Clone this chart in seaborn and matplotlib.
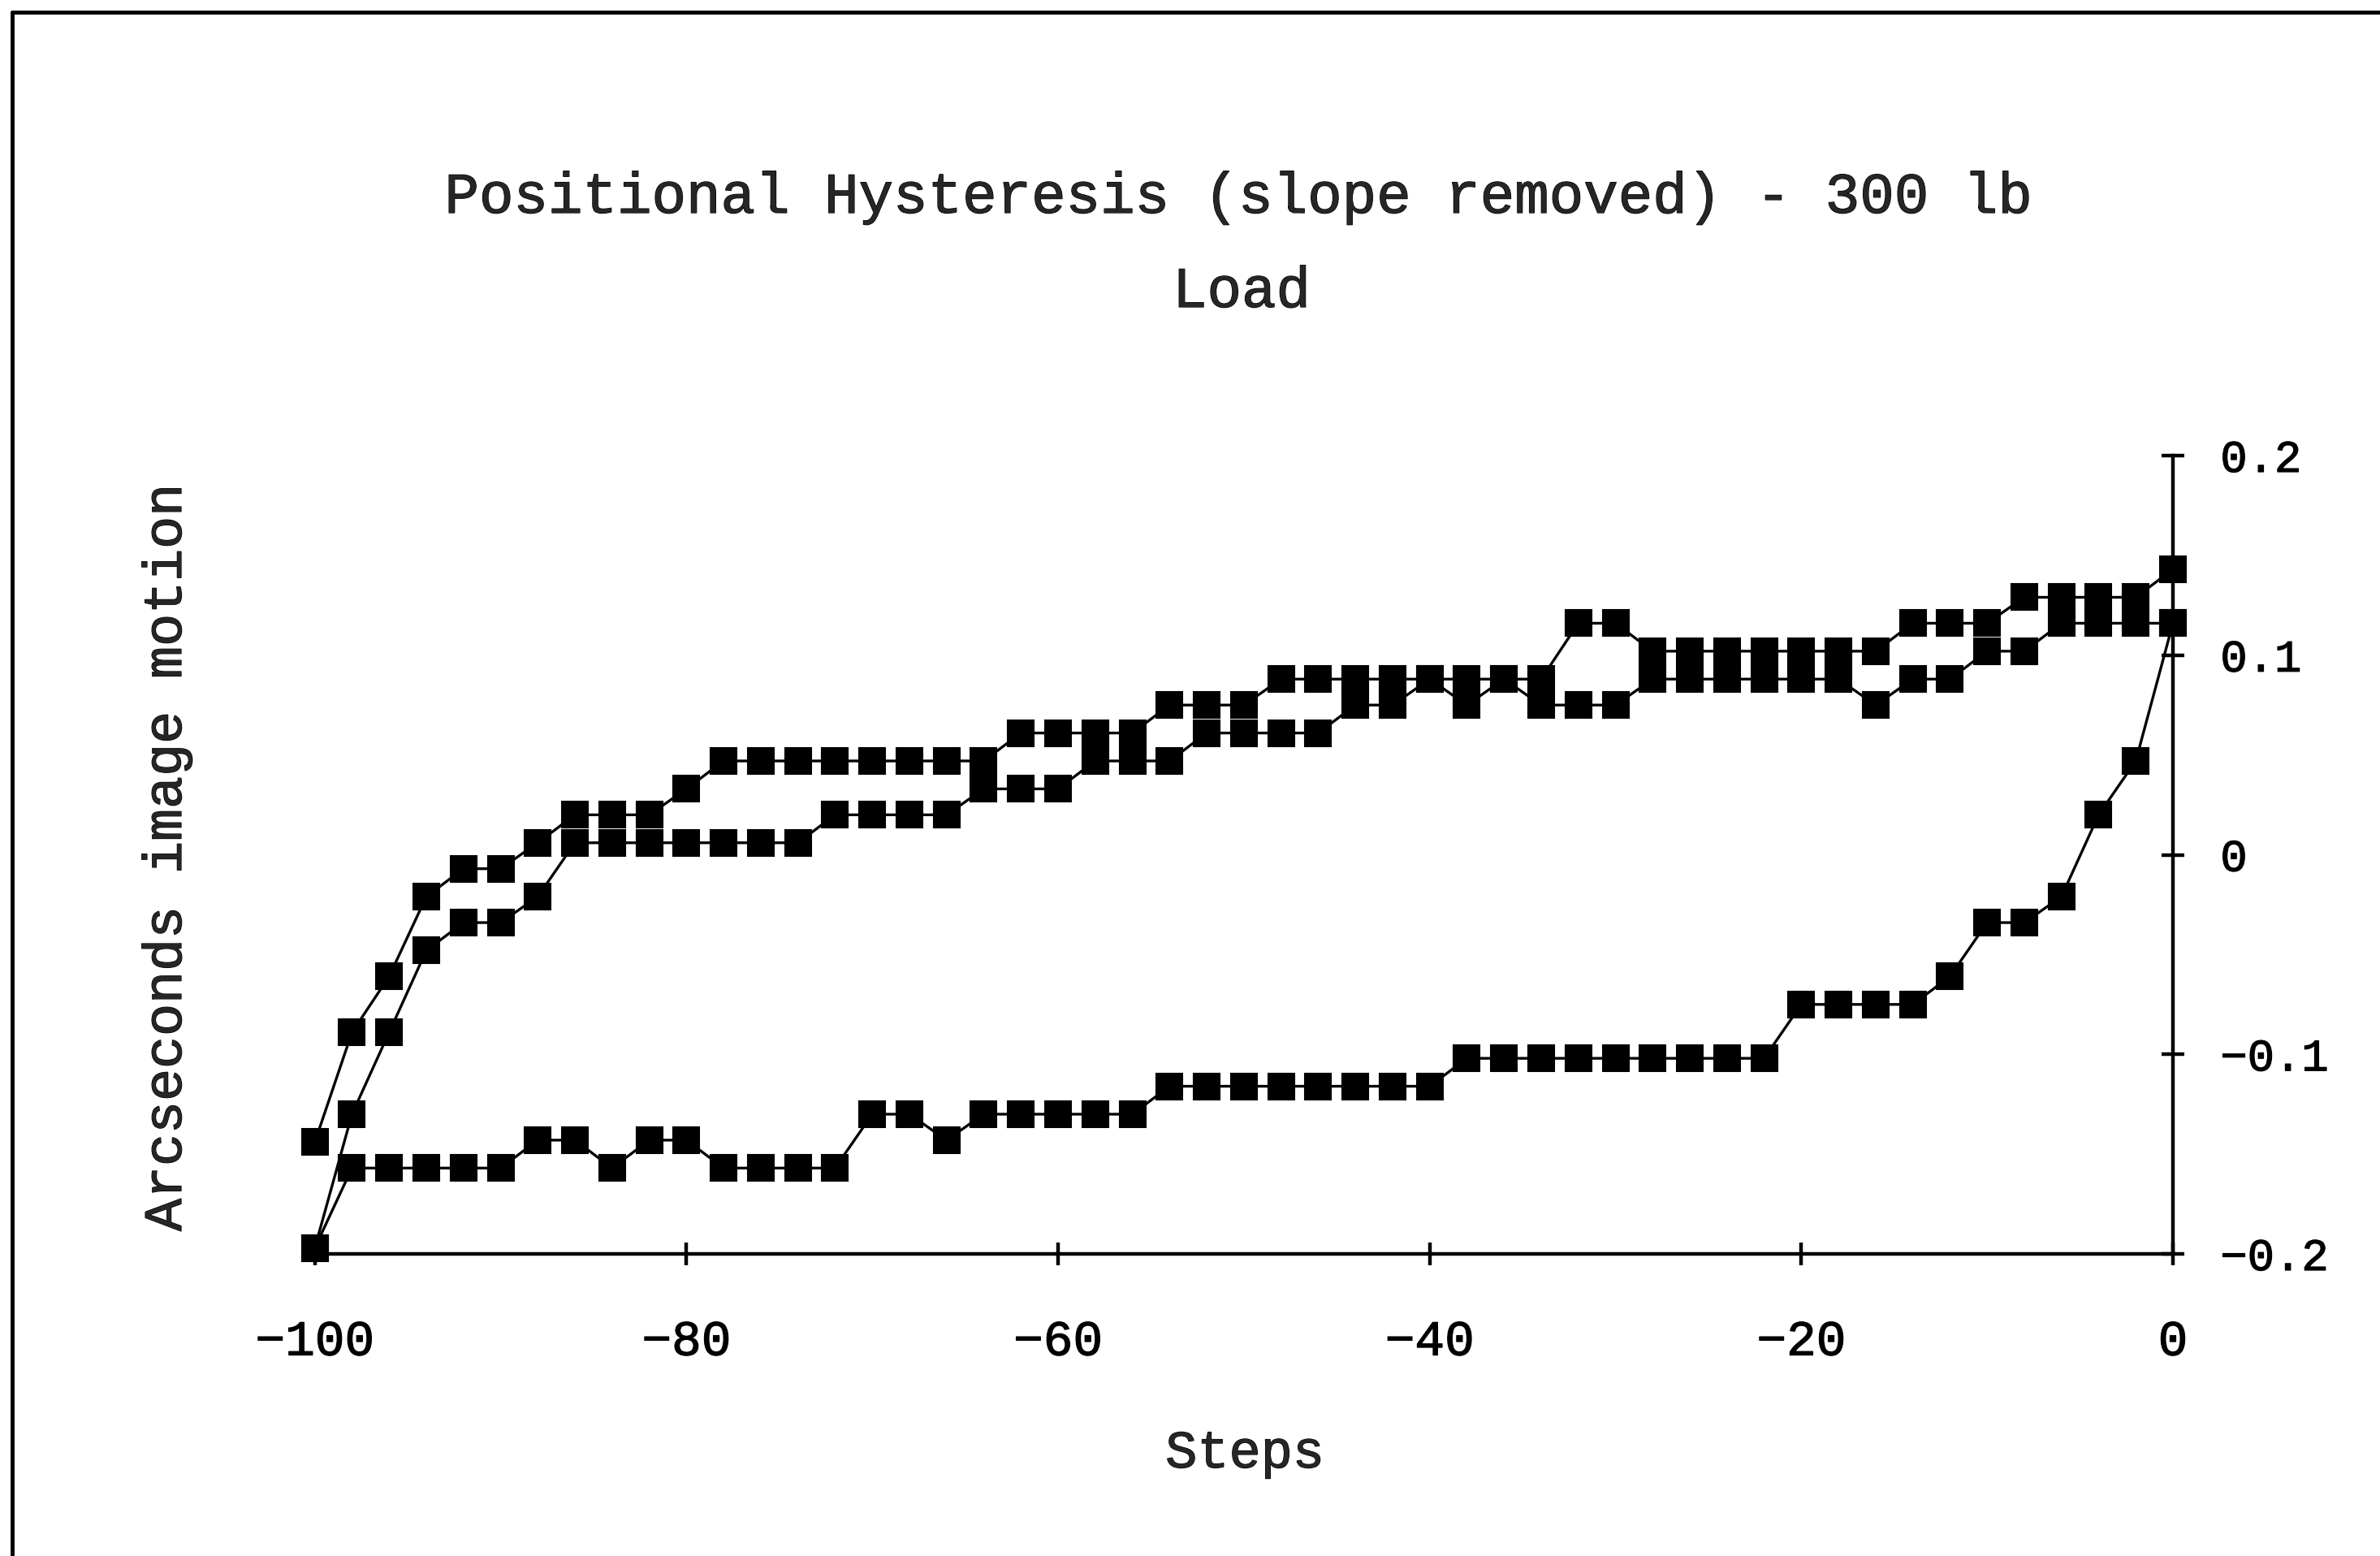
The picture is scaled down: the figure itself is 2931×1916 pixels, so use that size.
import matplotlib
matplotlib.use("Agg")
import matplotlib.pyplot as plt
import matplotlib.patheffects as pe
import seaborn as sns
from matplotlib.lines import Line2D

# ---------------- data ----------------
steps = [-100, -98, -96, -94, -92, -90, -88, -86, -84, -82,
         -80, -78, -76, -74, -72, -70, -68, -66, -64, -62,
         -60, -58, -56, -54, -52, -50, -48, -46, -44, -42,
         -40, -38, -36, -34, -32, -30, -28, -26, -24, -22,
         -20, -18, -16, -14, -12, -10, -8, -6, -4, -2, 0]

upper_a = [-0.144, -0.089, -0.061, -0.021, -0.007, -0.007, 0.006, 0.020, 0.020, 0.020,
           0.033, 0.047, 0.047, 0.047, 0.047, 0.047, 0.047, 0.047, 0.047, 0.061,
           0.061, 0.061, 0.061, 0.075, 0.075, 0.075, 0.088, 0.088, 0.088, 0.088,
           0.088, 0.088, 0.088, 0.088, 0.116, 0.116, 0.102, 0.102, 0.102, 0.102,
           0.102, 0.102, 0.102, 0.116, 0.116, 0.116, 0.129, 0.129, 0.129, 0.129, 0.143]

upper_b = [-0.197, -0.130, -0.089, -0.048, -0.034, -0.034, -0.021, 0.006, 0.006, 0.006,
           0.006, 0.006, 0.006, 0.006, 0.020, 0.020, 0.020, 0.020, 0.033, 0.033,
           0.033, 0.047, 0.047, 0.047, 0.061, 0.061, 0.061, 0.061, 0.075, 0.075,
           0.088, 0.075, 0.088, 0.075, 0.075, 0.075, 0.088, 0.088, 0.088, 0.088,
           0.088, 0.088, 0.075, 0.088, 0.088, 0.102, 0.102, 0.116, 0.116, 0.116, 0.116]

lower = [-0.197, -0.157, -0.157, -0.157, -0.157, -0.157, -0.143, -0.143, -0.157, -0.143,
         -0.143, -0.157, -0.157, -0.157, -0.157, -0.130, -0.130, -0.143, -0.130, -0.130,
         -0.130, -0.130, -0.130, -0.116, -0.116, -0.116, -0.116, -0.116, -0.116, -0.116,
         -0.116, -0.102, -0.102, -0.102, -0.102, -0.102, -0.102, -0.102, -0.102, -0.102,
         -0.075, -0.075, -0.075, -0.075, -0.061, -0.034, -0.034, -0.021, 0.020, 0.047, 0.116]

x_ticks = [-100, -80, -60, -40, -20, 0]
x_tick_labels = ["\u2212100", "\u221280", "\u221260", "\u221240", "\u221220", "0"]
y_ticks = [-0.2, -0.1, 0.0, 0.1, 0.2]
y_tick_labels = ["\u22120.2", "\u22120.1", "0", "0.1", "0.2"]

title_lines = ["Positional Hysteresis (slope removed) - 300 lb", "Load"]
x_label = "Steps"
y_label = "Arcseconds image motion"

# ---------------- style ----------------
sns.set_style("white")
plt.rcParams["font.family"] = ["Liberation Mono", "DejaVu Sans"]

heavy = [pe.withStroke(linewidth=0.9, foreground="black")]

W, H = 2931, 1916
fig = plt.figure(figsize=(W / 100, H / 100), dpi=100)
fig.patch.set_facecolor("white")

x0, x1 = 387.7, 2676.0
y_top, y_bot = 561.0, 1544.0
ax = fig.add_axes([x0 / W, 1 - y_bot / H, (x1 - x0) / W, (y_bot - y_top) / H])
ax.set_facecolor("white")

for vals in (upper_a, upper_b, lower):
    sns.lineplot(x=steps, y=vals, ax=ax, color="black", linewidth=2.4,
                 marker="s", markersize=23, markerfacecolor="black",
                 markeredgecolor="black", markeredgewidth=1.5,
                 clip_on=False, sort=False, estimator=None, legend=False)

ax.set_xlim(-100, 0)
ax.set_ylim(-0.2, 0.2)
ax.grid(False)

for side in ("left", "top"):
    ax.spines[side].set_visible(False)
for side in ("right", "bottom"):
    ax.spines[side].set_visible(True)
    ax.spines[side].set_color("black")
    ax.spines[side].set_linewidth(3.2)

ax.yaxis.tick_right()
ax.set_xticks(x_ticks, x_tick_labels)
ax.set_yticks(y_ticks, y_tick_labels)
ax.tick_params(axis="both", direction="inout", length=20, width=3.2, color="black",
               labelcolor="black")
ax.tick_params(axis="x", labelsize=44, pad=48, bottom=True, top=False)
ax.tick_params(axis="y", labelsize=40, pad=32, right=True, left=False)
for lab in ax.get_xticklabels() + ax.get_yticklabels():
    lab.set_path_effects(heavy)
ax.set_xlabel("")
ax.set_ylabel("")

# titles and axis labels
fig.text(1525 / W, 1 - 262 / H, title_lines[0], ha="center", va="baseline",
         fontsize=51, path_effects=heavy)
fig.text(1529 / W, 1 - 378 / H, title_lines[1], ha="center", va="baseline",
         fontsize=51, path_effects=heavy)
fig.text(206 / W, 1 - 1056 / H, y_label, rotation=90, ha="center", va="center",
         fontsize=48, path_effects=heavy)
fig.text(1533 / W, 1 - 1807 / H, x_label, ha="center", va="baseline",
         fontsize=47, path_effects=heavy)

# outer frame (left and top edges visible in the reference)
fig.add_artist(Line2D([15 / W, 15 / W], [0, 1 - 14.5 / H], transform=fig.transFigure,
                      color="black", lw=3.5))
fig.add_artist(Line2D([15 / W, 1], [1 - 14.5 / H, 1 - 14.5 / H], transform=fig.transFigure,
                      color="black", lw=3.5))

fig.savefig("out.png", dpi=100, facecolor="white")
